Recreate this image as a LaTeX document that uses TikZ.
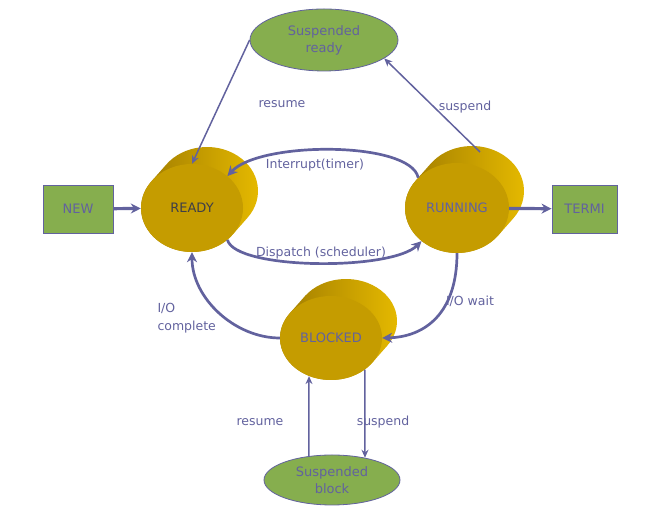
\documentclass[tikz,border=0pt]{standalone}
\usepackage{fontspec}
\setmainfont{DejaVu Sans}
\usetikzlibrary{arrows.meta,shapes.geometric}
\definecolor{edge}{RGB}{98,98,158}
\definecolor{boxgreen}{RGB}{134,174,78}
\definecolor{goldfront}{RGB}{197,156,0}
\definecolor{golddark}{RGB}{156,120,0}
\definecolor{goldlight}{RGB}{232,188,0}
\definecolor{readytext}{RGB}{62,62,72}

\tikzset{
  endbox/.style={draw=edge, line width=0.9pt, fill=boxgreen, minimum height=48pt, text=edge, font=\fontsize{13}{15}\selectfont},
  susp/.style={ellipse, draw=edge, line width=0.8pt, fill=boxgreen, inner sep=0pt, text=edge, align=center, font=\fontsize{13}{17}\selectfont},
  state/.style={ellipse, fill=goldfront, inner sep=0pt, text=edge, font=\fontsize{13}{15}\selectfont},
  lbl/.style={text=edge, font=\fontsize{12.5}{17.5}\selectfont, align=left},
  flow/.style={draw=edge, line width=2.7pt, -{Stealth[length=10pt,width=10pt]}},
  thinflow/.style={draw=edge, line width=1.5pt, -{Stealth[length=8pt,width=7pt]}},
}
% back part of a state cylinder: centre x, centre y, x radius, y radius
\newcommand{\cylbody}[4]{%
  \shade[left color=golddark, right color=goldlight]
    (#1,#2) ++(143:#3pt and #4pt) -- ++(15,17)
    arc[start angle=143, end angle=-37, x radius=#3pt, y radius=#4pt] -- ++(-15,-17)
    arc[start angle=-37, end angle=-217, x radius=#3pt, y radius=#4pt] -- cycle;}

\begin{document}
\begin{tikzpicture}[x=1pt,y=1pt]
\useasboundingbox (0,0) rectangle (651,513);

% cylinder bodies
\cylbody{192}{305}{51}{44}
\cylbody{457}{305}{52}{45}
\cylbody{331}{175}{51}{42}

% states
\node[state, minimum width=102pt, minimum height=88pt, text=readytext] (ready) at (192,305) {READY};
\node[state, minimum width=104pt, minimum height=90pt] (running) at (457,305) {RUNNING};
\node[state, minimum width=102pt, minimum height=84pt] (blocked) at (331,175) {BLOCKED};

\node[endbox, minimum width=70pt] (new) at (78,304) {NEW};
\node[endbox, minimum width=65pt] (termi) at (584.5,304) {TERMI};

\node[susp, minimum width=148pt, minimum height=62pt] (sready) at (324,473) {Suspended\\ready};
\node[susp, minimum width=136pt, minimum height=50pt] (sblock) at (332,33) {Suspended\\block};

\coordinate (runtop) at ([shift={(23,56)}]running.center);

% transitions
\draw[flow, line width=3.2pt] (new) -- (ready);
\draw[flow, line width=3.2pt] (running) -- (termi);
\draw[thinflow] (sready.west) -- (ready.north);
\draw[thinflow] (runtop) -- (sready.-17);
\draw[flow] (running.142) .. controls +(-8,37) and +(32,35) .. (ready.42);
\draw[flow] (ready.-42) .. controls +(8,-30) and +(-30,-30) .. (running.-137);
\draw[flow] (running.south) .. controls +(0,-60) and +(43,1) .. (blocked.east);
\draw[flow] (blocked.west) .. controls +(-45,0) and +(0,-46) .. (ready.south);
\draw[thinflow] (sblock.134) -- (blocked.240);
\draw[thinflow] (blocked.-43) -- (sblock.34);

% labels
\node[lbl] (lresume) at (282,409) {resume};
\node[lbl] (lsuspend) at (465,406) {suspend};
\node[lbl] (linter) at (315,348) {Interrupt(timer)};
\node[lbl] (ldispatch) at (321,260) {Dispatch (scheduler)};
\node[lbl] (lwait) at (470,212) {I/O wait};
\node[lbl, anchor=west] (lcomplete) at (154,195) {I/O\\complete};
\node[lbl] (lresumeb) at (260,91) {resume};
\node[lbl] (lsuspendb) at (383,91) {suspend};
\end{tikzpicture}
\end{document}
